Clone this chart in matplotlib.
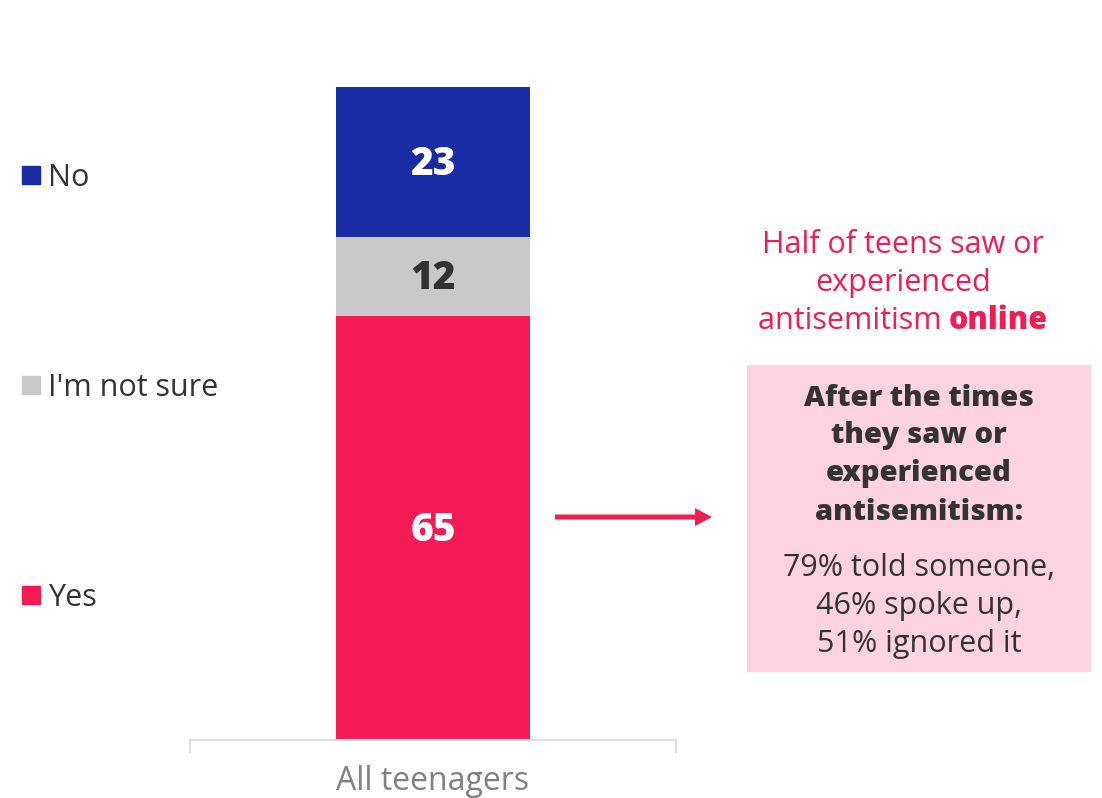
import matplotlib.pyplot as plt
from matplotlib.patches import Rectangle, FancyArrow

plt.rcParams['font.family'] = ['Open Sans', 'DejaVu Sans']

category = 'All teenagers'
series = ['Yes', "I'm not sure", 'No']
values = [65, 12, 23]
colors = ['#F21B54', '#C9C9C9', '#1A2CA3']
label_colors = ['white', '#333333', 'white']

fig = plt.figure(figsize=(11.02, 7.98), dpi=100)
W, H = 1102, 798
FS = 22
DY = 3  # small downward nudge for text

# axes placed to match the bar area
ax = fig.add_axes([190 / W, (H - 740) / H, (676 - 190) / W, (740 - 87) / H])

bottom = 0
for name, v, c, lc in zip(series, values, colors, label_colors):
    ax.bar(0, v, bottom=bottom, width=0.401, color=c)
    ax.text(0, bottom + v / 2 - 0.4, str(v), ha='center', va='center',
            color=lc, fontsize=28, fontweight='heavy')
    bottom += v

ax.set_xlim(-0.5, 0.5)
ax.set_ylim(0, 100)
ax.spines[['left', 'right', 'top']].set_visible(False)
ax.spines['bottom'].set_color('#DDDDDD')
ax.spines['bottom'].set_linewidth(1.5)
ax.set_yticks([])
ax.set_xticks([0])
ax.set_xticklabels([category], fontsize=23, color='#808080')
ax.tick_params(axis='x', length=0, pad=18)
# end ticks
for xe in (-0.5, 0.5):
    ax.plot([xe, xe], [0, -1.8], color='#DDDDDD', lw=1.5, clip_on=False)

# legend on the left
legend_y = {'No': 175, "I'm not sure": 385, 'Yes': 595}
for name, c in zip(series, colors):
    y = legend_y[name]
    fig.patches.append(Rectangle((22 / W, (H - y - 9) / H), 18 / W, 18 / H,
                                 transform=fig.transFigure, color=c))
    fig.text(48 / W, (H - y - DY) / H, name, ha='left', va='center',
             fontsize=FS, color='#333333')

# headline on the right
cx = 903 / W
fig.text(cx, (H - 242 - DY) / H, 'Half of teens saw or', ha='center', va='center',
         fontsize=FS, color='#F21B54')
fig.text(cx, (H - 280 - DY) / H, 'experienced', ha='center', va='center',
         fontsize=FS, color='#F21B54')
t1 = fig.text(0, (H - 318 - DY) / H, 'antisemitism ', ha='left', va='center',
              fontsize=FS, color='#F21B54')
t2 = fig.text(0, (H - 318 - DY) / H, 'online', ha='left', va='center',
              fontsize=FS, color='#F21B54', fontweight='heavy')
fig.canvas.draw()
w1 = t1.get_window_extent().width
w2 = t2.get_window_extent().width
x0 = 903 - (w1 + w2) / 2
t1.set_x(x0 / W)
t2.set_x((x0 + w1) / W)

# pink box
fig.patches.append(Rectangle((747 / W, (H - 671) / H), (1090 - 747) / W, (671 - 365) / H,
                             transform=fig.transFigure, color='#FDD3DF'))
bx = 919 / W
for y, line in zip([395, 433, 471, 510],
                   ['After the times', 'they saw or', 'experienced', 'antisemitism:']):
    fig.text(bx, (H - y - DY) / H, line, ha='center', va='center', fontsize=21,
             fontweight='heavy', color='#333333')
for y, line in zip([565, 603, 641],
                   ['79% told someone,', '46% spoke up,', '51% ignored it']):
    fig.text(bx, (H - y - DY) / H, line, ha='center', va='center', fontsize=FS,
             color='#333333')

# arrow
fig.patches.append(FancyArrow(555 / W, (H - 517) / H, (712 - 555) / W, 0,
                              width=5 / H, head_width=18 / H, head_length=17 / W,
                              length_includes_head=True, transform=fig.transFigure,
                              color='#F21B54', lw=0))

fig.savefig('out.png', dpi=100)
